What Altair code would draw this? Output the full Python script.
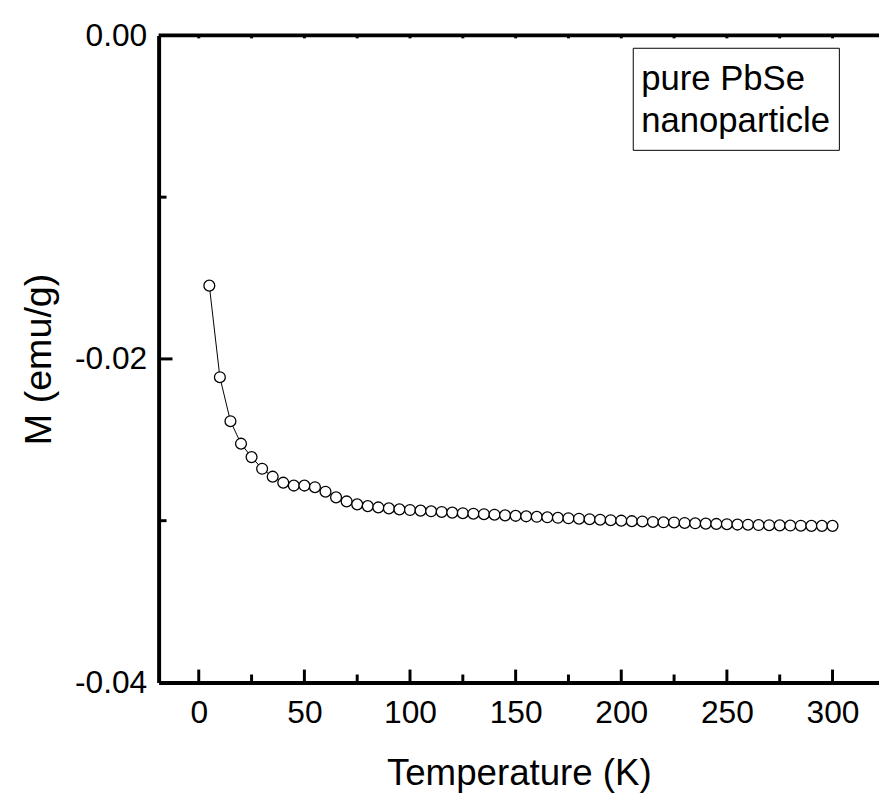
import altair as alt
import pandas as pd

temps = [5, 10, 15, 20, 25, 30, 35, 40, 45, 50, 55, 60, 65, 70, 75, 80, 85, 90, 95, 100,
         105, 110, 115, 120, 125, 130, 135, 140, 145, 150, 155, 160, 165, 170, 175, 180, 185, 190, 195, 200,
         205, 210, 215, 220, 225, 230, 235, 240, 245, 250, 255, 260, 265, 270, 275, 280, 285, 290, 295, 300]
moment = [-0.01547, -0.02113, -0.02385, -0.02524, -0.02607, -0.02679, -0.02728, -0.02765, -0.02783, -0.02783,
          -0.02793, -0.02821, -0.02856, -0.02881, -0.02899, -0.02910, -0.02918, -0.02924, -0.02930, -0.02934,
          -0.02938, -0.02942, -0.02946, -0.02950, -0.02954, -0.02957, -0.02960, -0.02963, -0.02967, -0.02970,
          -0.02973, -0.02976, -0.02979, -0.02982, -0.02985, -0.02988, -0.02991, -0.02994, -0.02997, -0.03000,
          -0.03003, -0.03005, -0.03008, -0.03010, -0.03011, -0.03014, -0.03016, -0.03018, -0.03020, -0.03022,
          -0.03024, -0.03025, -0.03027, -0.03028, -0.03029, -0.03030, -0.03031, -0.03032, -0.03032, -0.03032]

x_major = [0, 50, 100, 150, 200, 250, 300]
x_minor = [25, 75, 125, 175, 225, 275]
x_top = [0, 25, 50, 75, 100, 125, 150, 175, 200, 225, 250, 275, 300]
y_major = [0.0, -0.02, -0.04]
y_minor = [-0.01, -0.03]
label_line1 = "pure PbSe"
label_line2 = "nanoparticle"

W, H = 727, 653
FONT = "Liberation Sans"

df = pd.DataFrame({"T": temps, "M": moment})
xs = alt.Scale(domain=[-19, 322], nice=False, zero=False)
ys = alt.Scale(domain=[-0.04, 0.0], nice=False, zero=False)

x_axis = alt.Axis(values=x_major, title="Temperature (K)", labelFontSize=32, titleFontSize=37,
                  labelFont=FONT, titleFont=FONT, labelColor="black", titleColor="black",
                  titleFontWeight="normal", domainWidth=4, domainColor="black", tickSize=0,
                  labelPadding=15, titlePadding=28, grid=False)
y_axis = alt.Axis(values=y_major, title="M (emu/g)", labelFontSize=32, titleFontSize=38,
                  labelFont=FONT, titleFont=FONT, labelColor="black", titleColor="black",
                  titleFontWeight="normal", domainWidth=4, domainColor="black", tickSize=0,
                  labelPadding=12, titlePadding=16, grid=False,
                  labelExpr="datum.value < 0 ? '-' + format(-datum.value, '.2f') : format(0, '.2f')")

line = alt.Chart(df).mark_line(color="black", strokeWidth=1).encode(
    x=alt.X("T:Q", scale=xs, axis=x_axis),
    y=alt.Y("M:Q", scale=ys, axis=y_axis),
)
pts = alt.Chart(df).mark_point(shape="circle", filled=True, fill="white", stroke="black",
                               strokeWidth=1.3, size=120, opacity=1).encode(
    x=alt.X("T:Q", scale=xs), y=alt.Y("M:Q", scale=ys))

def xticks(vals, y0, y1):
    return alt.Chart(pd.DataFrame({"v": vals})).mark_rule(color="black", strokeWidth=3).encode(
        x=alt.X("v:Q", scale=xs), y=alt.value(y0), y2=alt.value(y1))

def yticks(vals, x0, x1):
    return alt.Chart(pd.DataFrame({"v": vals})).mark_rule(color="black", strokeWidth=3).encode(
        y=alt.Y("v:Q", scale=ys), x=alt.value(x0), x2=alt.value(x1))

top_line = alt.Chart(pd.DataFrame({"a": [0]})).mark_rule(color="black", strokeWidth=4).encode(
    x=alt.value(0), x2=alt.value(W), y=alt.value(0))

box = alt.Chart(pd.DataFrame({"a": [0]})).mark_rect(fill="white", stroke="black", strokeWidth=1).encode(
    x=alt.value(479), x2=alt.value(687), y=alt.value(13), y2=alt.value(116))

def text_line(s, ypix):
    return alt.Chart(pd.DataFrame({"t": [s]})).mark_text(
        align="left", baseline="alphabetic", fontSize=35, font=FONT, color="black").encode(
        text="t:N", x=alt.value(487), y=alt.value(ypix))

chart = alt.layer(
    line, pts,
    xticks(x_major, H, H - 13), xticks(x_minor, H, H - 8), xticks(x_top, 0, 3),
    yticks([-0.02], 0, 14), yticks(y_minor, 0, 8),
    top_line, box, text_line(label_line1, 55), text_line(label_line2, 98),
).properties(
    width=W, height=H, autosize=alt.AutoSizeParams(type="none"),
    padding={"left": 152, "top": 24, "right": 0, "bottom": 116},
).configure_view(stroke=None).configure(background="white")

chart.save("out.html", embed_options={"renderer": "svg", "actions": False})
